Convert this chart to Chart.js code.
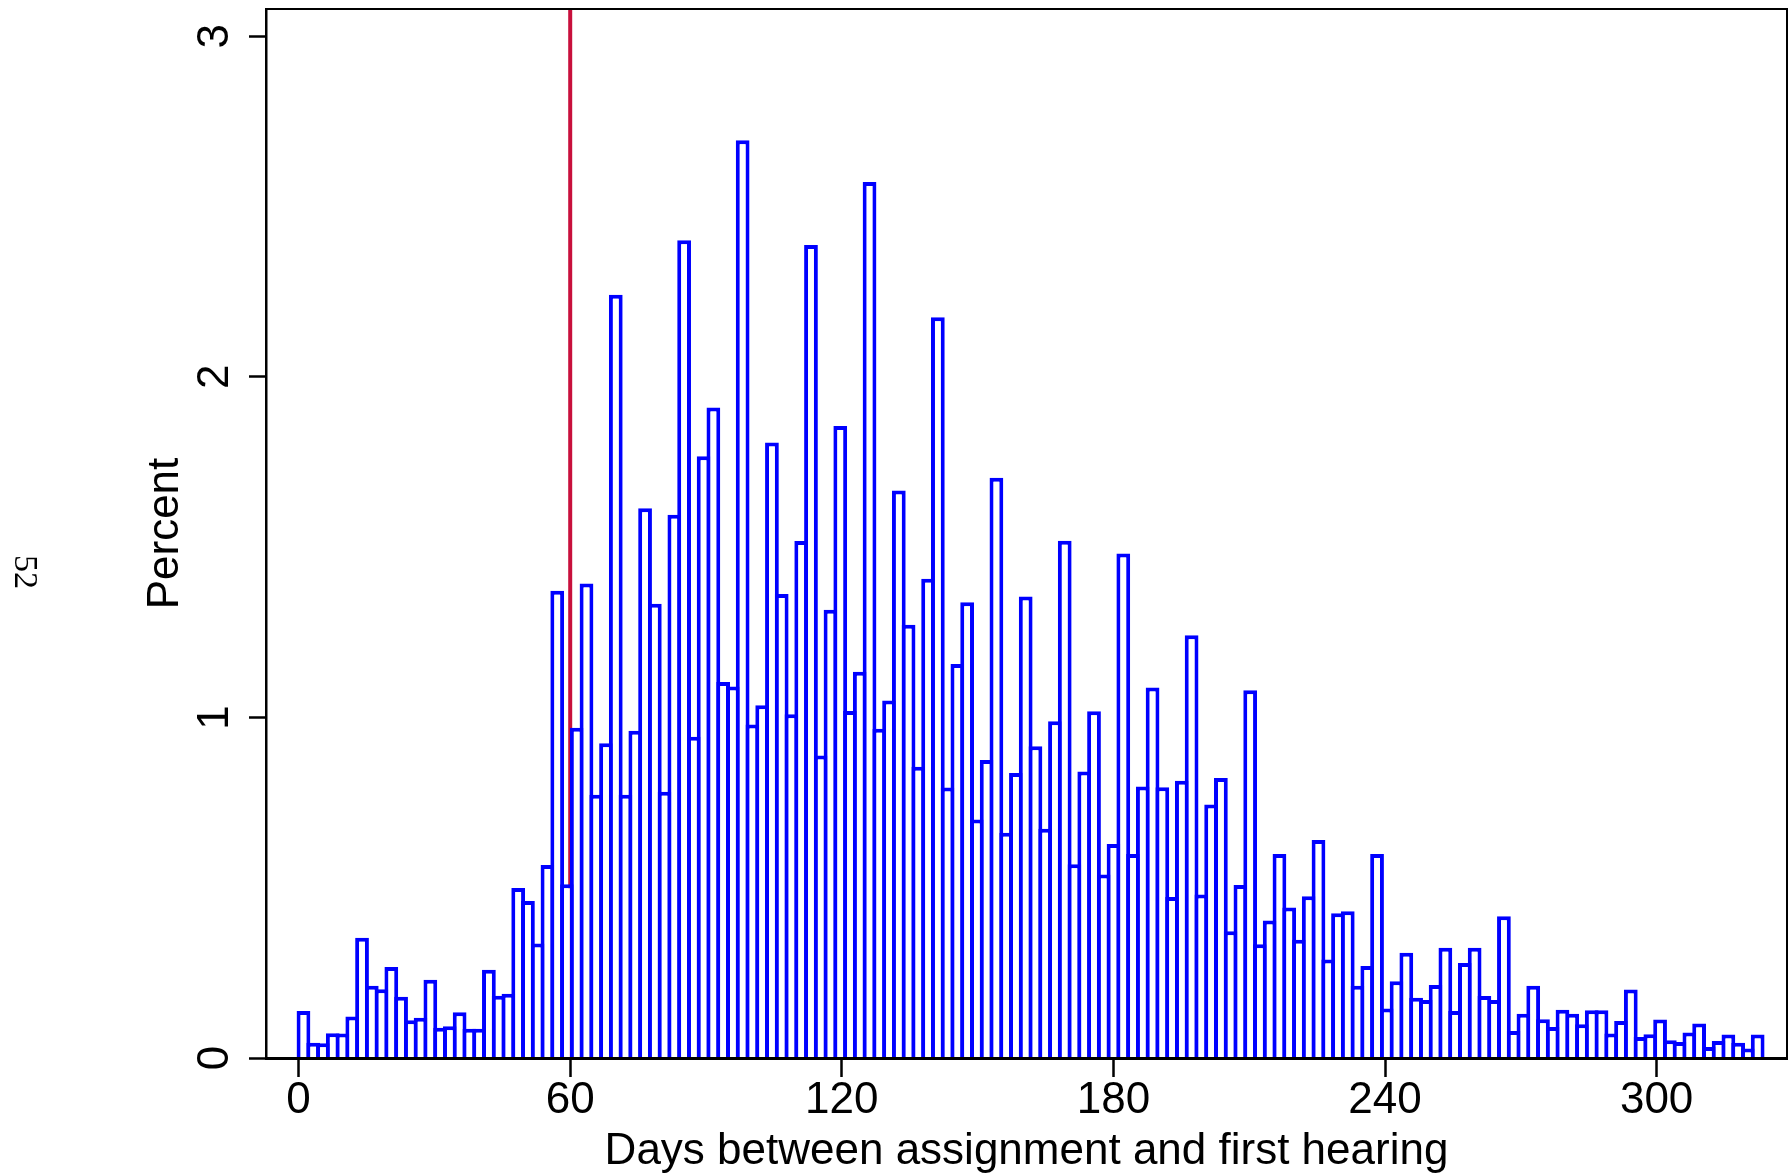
<!DOCTYPE html>
<html lang="en">
<head>
    <meta charset="UTF-8">
    <title>Days between assignment and first hearing</title>
    <script src="https://cdn.jsdelivr.net/npm/chart.js"></script>
    <style>
        body { margin: 0; background: #fff; }
        canvas { display: block; }
    </style>
</head>
<body>
    <canvas id="myChart" width="1788" height="1175"></canvas>

    <script>
        // histogram: 150 bins starting at day 0
        const binStart = 0;
        const binWidth = 2.156;
        const percent = [
            0.138, 0.045, 0.043, 0.073, 0.072, 0.122, 0.353, 0.212, 0.202, 0.267,
            0.180, 0.111, 0.118, 0.230, 0.089, 0.093, 0.134, 0.086, 0.086, 0.259,
            0.183, 0.189, 0.499, 0.461, 0.336, 0.567, 1.372, 0.510, 0.970, 1.393,
            0.773, 0.924, 2.241, 0.773, 0.961, 1.614, 1.334, 0.782, 1.595, 2.401,
            0.943, 1.767, 1.910, 1.104, 1.091, 2.695, 0.979, 1.036, 1.807, 1.362,
            1.009, 1.518, 2.387, 0.888, 1.316, 1.856, 1.019, 1.134, 2.572, 0.967,
            1.050, 1.666, 1.272, 0.855, 1.407, 2.175, 0.794, 1.157, 1.338, 0.700,
            0.875, 1.704, 0.661, 0.837, 1.355, 0.915, 0.673, 0.989, 1.519, 0.569,
            0.841, 1.018, 0.539, 0.628, 1.481, 0.599, 0.797, 1.088, 0.795, 0.473,
            0.814, 1.241, 0.480, 0.744, 0.822, 0.372, 0.508, 1.080, 0.334, 0.404,
            0.599, 0.442, 0.347, 0.475, 0.640, 0.289, 0.425, 0.431, 0.212, 0.270,
            0.599, 0.145, 0.225, 0.309, 0.177, 0.170, 0.214, 0.324, 0.138, 0.279,
            0.324, 0.182, 0.170, 0.416, 0.079, 0.130, 0.212, 0.114, 0.091, 0.142,
            0.130, 0.099, 0.140, 0.140, 0.072, 0.109, 0.201, 0.062, 0.070, 0.113,
            0.052, 0.047, 0.075, 0.101, 0.032, 0.050, 0.069, 0.045, 0.028, 0.069
        ];
        const cutoffDay = 60;
        const xTicks = [0, 60, 120, 180, 240, 300];
        const yTicks = [0, 1, 2, 3];
        const xMin = -7.2, xMax = 328.8;
        const yMin = 0, yMax = 3.08;
        const pageNumber = '52';

        const sans = "'Liberation Sans', Arial, Helvetica, sans-serif";
        const outline = 4;

        const bars = percent.map((v, i) => ({ x: binStart + (i + 0.5) * binWidth, y: v }));

        // outline round the plot region
        const frame = {
            id: 'frame',
            afterDatasetsDraw(chart) {
                const a = chart.chartArea, c = chart.ctx;
                c.save();
                c.strokeStyle = '#000';
                c.lineWidth = 2;
                c.strokeRect(a.left, a.top, a.right - a.left, a.bottom - a.top);
                c.restore();
            }
        };

        // y tick labels are turned like the axis title
        const yLabels = {
            id: 'yLabels',
            afterDraw(chart) {
                const c = chart.ctx, y = chart.scales.y;
                c.save();
                c.fillStyle = '#000';
                c.font = '44px ' + sans;
                c.textAlign = 'center';
                c.textBaseline = 'middle';
                yTicks.forEach(v => {
                    c.save();
                    c.translate(216, y.getPixelForValue(v));
                    c.rotate(-Math.PI / 2);
                    c.fillText(String(v), 0, 0);
                    c.restore();
                });
                // page number from the document
                c.translate(24, 572);
                c.rotate(Math.PI / 2);
                c.font = "34px 'Liberation Serif', 'DejaVu Serif', serif";
                c.fillText(pageNumber, 0, 0);
                c.restore();
            }
        };

        const ctx = document.getElementById('myChart').getContext('2d');
        const myChart = new Chart(ctx, {
            data: {
                datasets: [{
                    type: 'bar',
                    data: bars,
                    backgroundColor: '#ffffff',
                    borderColor: '#0000ff',
                    borderWidth: outline,
                    borderSkipped: 'start',
                    categoryPercentage: 1,
                    barPercentage: 1.41,
                    order: 1
                }, {
                    type: 'line',
                    data: [{ x: cutoffDay, y: yMin }, { x: cutoffDay, y: yMax }],
                    borderColor: '#c8103c',
                    borderWidth: 4,
                    pointRadius: 0,
                    order: 2
                }]
            },
            options: {
                responsive: false,
                maintainAspectRatio: false,
                animation: false,
                layout: { padding: { top: 9, right: 1, left: 0, bottom: 0 } },
                plugins: { legend: { display: false }, tooltip: { enabled: false } },
                scales: {
                    x: {
                        type: 'linear',
                        min: xMin,
                        max: xMax,
                        offset: false,
                        afterBuildTicks: s => { s.ticks = xTicks.map(v => ({ value: v })); },
                        afterFit: s => { s.height = 117; },
                        grid: { drawOnChartArea: false, offset: false, color: '#000', tickLength: 19, tickWidth: 2.5 },
                        border: { color: '#000', width: 3 },
                        ticks: {
                            color: '#000',
                            maxRotation: 0,
                            padding: 2,
                            font: { family: sans, size: 44, lineHeight: 1 }
                        },
                        title: {
                            display: true,
                            text: 'Days between assignment and first hearing',
                            color: '#000',
                            font: { family: sans, size: 44, lineHeight: 1 },
                            padding: { top: 0, bottom: 1 }
                        }
                    },
                    y: {
                        type: 'linear',
                        min: yMin,
                        max: yMax,
                        afterBuildTicks: s => { s.ticks = yTicks.map(v => ({ value: v })); },
                        afterFit: s => { s.width = 266; },
                        grid: { drawOnChartArea: false, color: '#000', tickLength: 17, tickWidth: 2.5 },
                        border: { color: '#000', width: 2.5 },
                        ticks: { display: false },
                        title: {
                            display: true,
                            text: 'Percent',
                            color: '#000',
                            font: { family: sans, size: 44, lineHeight: 1 },
                            padding: { top: 144, bottom: 0 }
                        }
                    }
                }
            },
            plugins: [frame, yLabels]
        });
    </script>
</body>
</html>
